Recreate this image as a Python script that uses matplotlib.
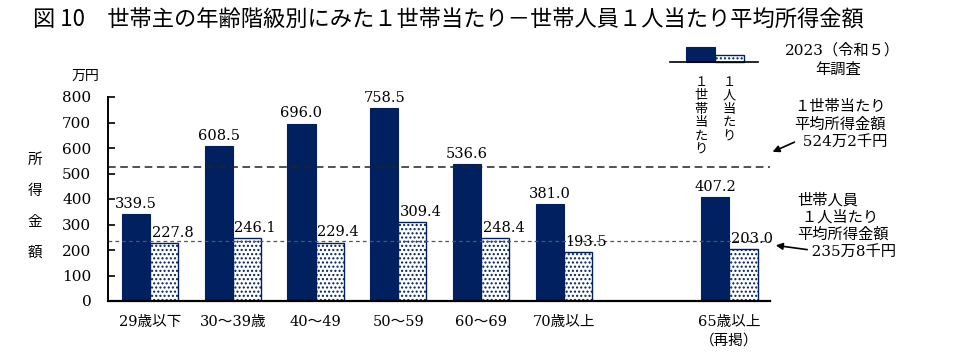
import numpy as np
import matplotlib.pyplot as plt
from matplotlib.patches import Rectangle
from matplotlib.lines import Line2D

#-- DATA:
categories = ['29歳以下', '30〜39歳', '40〜49', '50〜59', '60〜69', '70歳以上', '65歳以上\n（再掲）']
x_pos = [0, 1, 2, 3, 4, 5, 7]
per_household = [339.5, 608.5, 696.0, 758.5, 536.6, 381.0, 407.2]
per_person = [227.8, 246.1, 229.4, 309.4, 248.4, 193.5, 203.0]
avg_household = 524.2
avg_person = 235.8
yticks = [0, 100, 200, 300, 400, 500, 600, 700, 800]

NAVY = '#002060'
SERIF = ['DejaVu Serif', 'Noto Sans CJK JP']
plt.rcParams['font.family'] = SERIF
plt.rcParams['hatch.linewidth'] = 1.0
plt.rcParams['hatch.color'] = NAVY

fig = plt.figure(figsize=(9.66, 3.64), dpi=100)
ax = fig.add_axes([108 / 966, 1 - 301 / 364, (770 - 108) / 966, (301 - 97) / 364])

w = 0.34
x = np.array(x_pos, dtype=float)
ax.bar(x - w / 2, per_household, w, color=NAVY, edgecolor=NAVY, linewidth=0.8)
ax.bar(x + w / 2, per_person, w, color='white', edgecolor=NAVY, linewidth=1.0, hatch='....')

for xi, v in zip(x, per_household):
    ax.text(xi - w / 2, v + 12, f'{v:.1f}', ha='center', va='bottom', fontsize=10.5)
for xi, v in zip(x, per_person):
    ax.text(xi + 0.02, v + 12, f'{v:.1f}', ha='left', va='bottom', fontsize=10.5)

ax.axhline(avg_household, color='#222222', linestyle=(0, (5, 3)), linewidth=1.1)
ax.axhline(avg_person, color='#555555', linestyle=(0, (3, 2.5)), linewidth=0.9)

ax.set_xlim(-0.507, 7.49)
ax.set_ylim(0, 800)
ax.set_yticks(yticks)
ax.set_yticklabels([str(t) for t in yticks], fontsize=11)
ax.tick_params(axis='y', direction='in', length=5, width=1.2, pad=12)
ax.set_xticks(x)
ax.set_xticklabels(categories, fontsize=10.5, linespacing=1.4)
ax.tick_params(axis='x', length=0, pad=10)
ax.spines['top'].set_visible(False)
ax.spines['right'].set_visible(False)
ax.spines['left'].set_linewidth(1.4)
ax.spines['bottom'].set_linewidth(1.6)

#-- TEXTS:
fig.text(33 / 966, 1 - 20 / 364, '図 10　世帯主の年齢階級別にみた１世帯当たり－世帯人員１人当たり平均所得金額',
         fontsize=16, va='center', ha='left', family=['Noto Sans CJK JP', 'DejaVu Sans'])
fig.text(85 / 966, 1 - 76 / 364, '万円', fontsize=10, ha='center', va='center')
for i, ch in enumerate('所得金額'):
    fig.text(35 / 966, 1 - (160 + i * 31) / 364, ch, fontsize=10.5, ha='center', va='center')

#-- LEGEND:
fig.add_artist(Rectangle((686 / 966, 1 - 62 / 364), 29 / 966, 15 / 364, transform=fig.transFigure,
                         facecolor=NAVY, edgecolor=NAVY, linewidth=0.8))
fig.add_artist(Rectangle((715 / 966, 1 - 62 / 364), 29 / 966, 7 / 364, transform=fig.transFigure,
                         facecolor='white', edgecolor=NAVY, linewidth=1.0, hatch='....'))
fig.add_artist(Line2D([670 / 966, 758 / 966], [1 - 62 / 364, 1 - 62 / 364], transform=fig.transFigure,
                      color='black', linewidth=1.2))
for i, ch in enumerate(['１', '世', '帯', '当', 'た', 'り']):
    fig.text(701 / 966, 1 - (82 + i * 13.5) / 364, ch, fontsize=9.5, ha='center', va='center')
for i, ch in enumerate(['１', '人', '当', 'た', 'り']):
    fig.text(729 / 966, 1 - (82 + i * 13.5) / 364, ch, fontsize=9.5, ha='center', va='center')
fig.text(843 / 966, 1 - 50 / 364, '2023（令和５）', fontsize=11, ha='center', va='center')
fig.text(838 / 966, 1 - 70 / 364, '年調査', fontsize=11, ha='center', va='center')

#-- ANNOTATIONS:
fig.text(840 / 966, 1 - 124 / 364, '１世帯当たり\n平均所得金額\n  524万2千円', fontsize=11,
         ha='center', va='center', linespacing=1.3)
ax.annotate('', xy=(770 / 966, 1 - 153 / 364), xytext=(797 / 966, 1 - 141 / 364),
            xycoords='figure fraction', textcoords='figure fraction',
            arrowprops=dict(arrowstyle='-|>', color='black', lw=1.2, mutation_scale=10))
fig.text(797 / 966, 1 - 226 / 364, '世帯人員\n １人当たり\n平均所得金額\n   235万8千円', fontsize=11,
         ha='left', va='center', linespacing=1.25)
ax.annotate('', xy=(773 / 966, 1 - 245 / 364), xytext=(810 / 966, 1 - 250 / 364),
            xycoords='figure fraction', textcoords='figure fraction',
            arrowprops=dict(arrowstyle='-|>', color='black', lw=1.2, mutation_scale=10))

fig.savefig('out.png', dpi=100)
